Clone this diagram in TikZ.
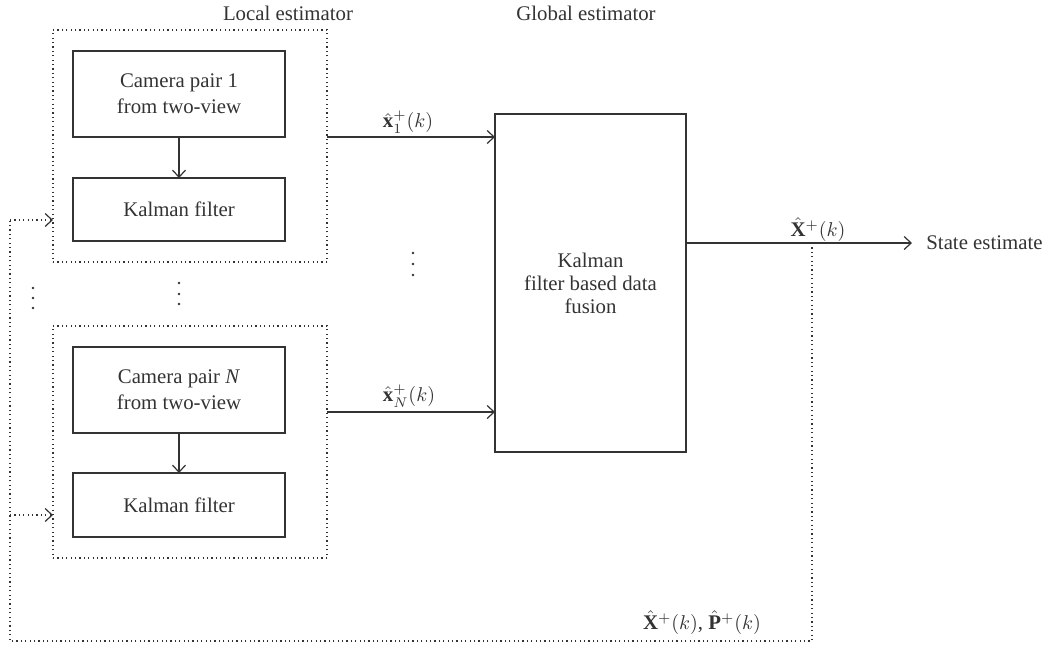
\documentclass[tikz,border=0pt]{standalone}
\usepackage{fontspec}
\setmainfont{Liberation Serif}
\usetikzlibrary{arrows.meta}
\definecolor{ink}{HTML}{333333}
\begin{document}
\begin{tikzpicture}[x=0.5pt,y=-0.5pt,
  every node/.style={font=\fontsize{10.4}{13}\selectfont, text=ink},
  blk/.style={draw=ink, line width=0.6pt, inner sep=0pt, outer sep=0pt, minimum width=106pt, align=center},
  grp/.style={draw=ink, line width=0.6pt, dash pattern=on 0.6pt off 1.6pt, inner sep=0pt, outer sep=0pt, minimum width=137pt, minimum height=116pt},
  conn/.style={draw=ink, line width=0.6pt, -{Straight Barb[length=3.5pt,width=6.5pt]}},
  fb/.style={draw=ink, line width=0.6pt, dash pattern=on 0.6pt off 1.6pt},
  lbl/.style={inner sep=0pt},
  vd/.style={fill=ink, draw=none}
]
\useasboundingbox (0,0) rectangle (1049,644);

% titles
\node[lbl] (tloc) at (288,13) {Local estimator};
\node[lbl] (tglob) at (586,13) {Global estimator};

% local estimator groups
\node[grp] (loc1) at (190,146) {};
\node[grp] (locN) at (190,442) {};

\node[blk, minimum height=43pt] (cam1) at (179,94) {Camera pair 1\\from two-view};
\node[blk, minimum height=31.5pt] (kf1) at (179,209.5) {Kalman filter};
\node[blk, minimum height=43pt] (camN) at (179,390) {Camera pair \textit{N}\\from two-view};
\node[blk, minimum height=32pt] (kfN) at (179,505) {Kalman filter};

\draw[conn] (cam1) -- (kf1);
\draw[conn] (camN) -- (kfN);

% fusion
\node[blk, minimum width=95.5pt, minimum height=169pt, font=\fontsize{10.4}{11.5}\selectfont] (fus) at (590.5,283) {Kalman\\filter based data\\fusion};

% inputs to fusion
\coordinate (a1) at (327,137);
\coordinate (aN) at (327,412);
\draw[conn] (a1) -- (a1 -| fus.west);
\draw[conn] (aN) -- (aN -| fus.west);
\node[lbl] (l1) at (408,122) {$\hat{\mathbf{x}}_1^{+}(k)$};
\node[lbl] (lN) at (409,396) {$\hat{\mathbf{x}}_N^{+}(k)$};

% output
\coordinate (o1) at (686,243);
\node[lbl, anchor=west] (se) at (926,243) {State estimate};
\draw[conn] (o1) -- ([xshift=-7pt]se.west);
\node[lbl] (lo) at (818,230) {$\hat{\mathbf{X}}^{+}(k)$};

% feedback
\coordinate (j) at (812,243);
\coordinate (c1) at (812,641);
\coordinate (c2) at (10,641);
\coordinate (c3) at (10,220);
\coordinate (c4) at (10,515);
\draw[fb] (j) -- (c1) -- (c2) -- (c3);
\draw[fb, -{Straight Barb[length=3.5pt,width=6.5pt]}] (c3) -- (c3 -| loc1.west);
\draw[fb, -{Straight Barb[length=3.5pt,width=6.5pt]}] (c4) -- (c4 -| locN.west);
\node[lbl] (lfb) at (702,623) {$\hat{\mathbf{X}}^{+}(k)$, $\hat{\mathbf{P}}^{+}(k)$};

% vertical ellipses
\foreach \y in {288,298,308} \fill[vd] (33,\y) circle (1.3);
\foreach \y in {283,294,304} \fill[vd] (179,\y) circle (1.3);
\foreach \y in {253,264,275} \fill[vd] (413,\y) circle (1.3);
\end{tikzpicture}
\end{document}
